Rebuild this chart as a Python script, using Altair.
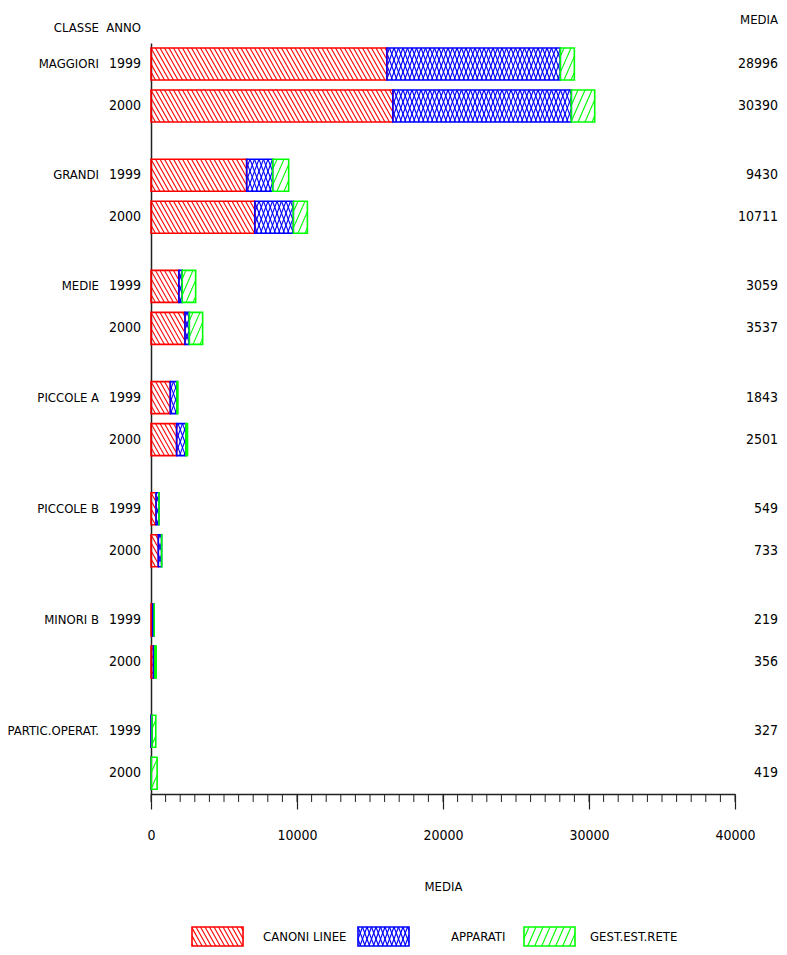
import altair as alt
import pandas as pd
import numpy as np

# ---------------- data ----------------
classi = ["MAGGIORI", "GRANDI", "MEDIE", "PICCOLE A", "PICCOLE B", "MINORI B", "PARTIC.OPERAT."]
anni = ["1999", "2000"]
canoni_linee = [16155, 16566, 6553, 7111, 1909, 2327, 1322, 1755, 345, 500, 120, 170, 5, 10]
apparati = [11882, 12225, 1780, 2638, 230, 295, 456, 638, 200, 225, 95, 95, 60, 5]
gest_est_rete = [959, 1599, 1097, 962, 920, 915, 65, 108, 4, 8, 4, 91, 262, 404]
media = [28996, 30390, 9430, 10711, 3059, 3537, 1843, 2501, 549, 733, 219, 356, 327, 419]
voci = ["CANONI LINEE", "APPARATI", "GEST.EST.RETE"]
colori = ["#ff0000", "#0000ff", "#00ff00"]
x_ticks = [0, 10000, 20000, 30000, 40000]
x_minor = list(range(0, 40001, 1000))

# ---------------- layout ----------------
W, H = 584, 751
ROW = 42.0                      # px between the two years of a class
Y0 = -0.5
Y1 = Y0 + H / ROW
UNIT = H / (Y1 - Y0)
K = W / 40000
GROUP_STEP = 111.2 / ROW
HALF = 16 / UNIT
FONT = "DejaVu Sans Condensed, DejaVu Sans, sans-serif"
FS = 13     # words
FN = 14     # numbers
RIGHT_X = 627
PATTERNS = {"CANONI LINEE": (4.5, [18]), "APPARATI": (4.5, [12, -12]), "GEST.EST.RETE": (7, [-14])}


def val_x(px):
    return px / K


def val_y(px):
    return px / UNIT + Y0


def hatch_lines(X0, X1, T0, T1, d, r):
    out = []
    hb = T1 - T0
    n0 = int(np.floor((min(X0, X0 - r) - d) / d))
    n1 = int(np.ceil((max(X1, X1 - r) + d) / d))
    for n in range(n0, n1 + 1):
        a = n * d
        ta = T0 + (X0 - a) * hb / r
        tb = T0 + (X1 - a) * hb / r
        lo = max(T0, min(ta, tb))
        hi = min(T1, max(ta, tb))
        if hi - lo > 0.3:
            out.append((a + r * (lo - T0) / hb, lo, a + r * (hi - T0) / hb, hi))
    return out


segs, hatch, rows = [], [], []
series = [canoni_linee, apparati, gest_est_rete]
i = 0
for g, c in enumerate(classi):
    for j, a in enumerate(anni):
        pos = g * GROUP_STEP + j
        rows.append({"pos": pos, "anno": a, "classe": c if j == 0 else "", "media": str(media[i])})
        start = 0
        for v, s in zip(voci, series):
            end = start + s[i]
            segs.append({"x": start, "x2": end, "y": pos - HALF, "y2": pos + HALF, "voce": v})
            d, runs = PATTERNS[v]
            T0 = (pos - HALF - Y0) * UNIT
            T1 = (pos + HALF - Y0) * UNIT
            for r in runs:
                for (xa, ya, xb, yb) in hatch_lines(start * K, end * K, T0, T1, d, r):
                    hatch.append({"x": val_x(xa), "y": val_y(ya), "x2": val_x(xb), "y2": val_y(yb), "voce": v})
            start = end
        i += 1

# legend (below plot)
leg_boxes, leg_labels = [], []
label_x = [112, 300, 439]
LEG_TOP, LEG_BOT = 884, 903
for n, v in enumerate(voci):
    bx0, bx1 = 41 + n * 166, 92 + n * 166
    leg_boxes.append({"x": val_x(bx0), "x2": val_x(bx1), "y": val_y(LEG_TOP), "y2": val_y(LEG_BOT), "voce": v})
    d, runs = PATTERNS[v]
    for r in runs:
        for (xa, ya, xb, yb) in hatch_lines(bx0, bx1, LEG_TOP, LEG_BOT, d, r * (LEG_BOT - LEG_TOP) / 32):
            hatch.append({"x": val_x(xa), "y": val_y(ya), "x2": val_x(xb), "y2": val_y(yb), "voce": v})
    leg_labels.append({"x": val_x(label_x[n]), "y": val_y((LEG_TOP + LEG_BOT) / 2), "voce": v})

df_segs = pd.DataFrame(segs + leg_boxes)
df_hatch = pd.DataFrame(hatch)
df_rows = pd.DataFrame(rows)
df_leg = pd.DataFrame(leg_labels)
df_minor = pd.DataFrame({"x": x_minor})

xscale = alt.Scale(domain=[0, 40000], nice=False, zero=False)
yscale = alt.Scale(domain=[Y0, Y1], reverse=True, nice=False, zero=False)
xaxis = alt.Axis(values=x_ticks, tickSize=15, tickColor="#222222", domainColor="#222222",
                 domainWidth=1.5, tickWidth=1.2, grid=False, labelFont=FONT, labelFontSize=FN,
                 labelColor="black", labelPadding=19, title="MEDIA", titleFont=FONT,
                 titleFontSize=FS, titleFontWeight="normal", titleColor="black", titlePadding=38,
                 format="d", labelFlush=False)
yaxis = alt.Axis(labels=False, ticks=False, domain=True, domainColor="#222222", domainWidth=1.5,
                 grid=False, title=None)
col = alt.Color("voce:N", scale=alt.Scale(domain=voci, range=colori), legend=None)

X = alt.X("x:Q", scale=xscale, axis=xaxis)
Yy = alt.Y("y:Q", scale=yscale, axis=yaxis)

hatch_layer = alt.Chart(df_hatch).mark_rule(strokeWidth=1.1).encode(
    x=X, x2="x2:Q", y=Yy, y2="y2:Q", color=col)

box_layer = alt.Chart(df_segs).mark_rect(fillOpacity=0, strokeWidth=1.6).encode(
    x=X, x2="x2:Q", y=Yy, y2="y2:Q",
    stroke=alt.Stroke("voce:N", scale=alt.Scale(domain=voci, range=colori), legend=None))

minor_layer = alt.Chart(df_minor).mark_rule(color="#222222", strokeWidth=1).encode(
    x=X, y=alt.value(H), y2=alt.value(H + 8))

Ypos = alt.Y("pos:Q", scale=yscale, axis=yaxis)
txtw = dict(font=FONT, fontSize=FS, color="black", baseline="middle")
txtn = dict(font=FONT, fontSize=FN, color="black", baseline="middle")
anno_layer = alt.Chart(df_rows).mark_text(align="right", **txtn).encode(
    x=alt.value(-10), y=Ypos, text="anno:N")
classe_layer = alt.Chart(df_rows).mark_text(align="right", **txtw).encode(
    x=alt.value(-52), y=Ypos, text="classe:N")
media_layer = alt.Chart(df_rows).mark_text(align="right", **txtn).encode(
    x=alt.value(RIGHT_X), y=Ypos, text="media:N")

leg_layer = alt.Chart(df_leg).mark_text(align="left", **txtw).encode(
    x=X, y=Yy, text="voce:N")

h1 = alt.Chart(pd.DataFrame({"t": ["CLASSE"]})).mark_text(align="right", **txtw).encode(
    x=alt.value(-52), y=alt.value(-15), text="t:N")
h2 = alt.Chart(pd.DataFrame({"t": ["ANNO"]})).mark_text(align="right", **txtw).encode(
    x=alt.value(-10), y=alt.value(-15), text="t:N")
h3 = alt.Chart(pd.DataFrame({"t": ["MEDIA"]})).mark_text(align="right", **txtw).encode(
    x=alt.value(RIGHT_X), y=alt.value(-23), text="t:N")

chart = alt.layer(
    hatch_layer, box_layer, minor_layer, anno_layer, classe_layer, media_layer, leg_layer, h1, h2, h3
).properties(
    width=W, height=H,
    padding={"left": 143, "top": 35, "right": 44, "bottom": 153},
    autosize=alt.AutoSizeParams(type="none"),
).configure(background="white").configure_view(stroke=None)

chart.save("out.html", embed_options={"renderer": "svg", "actions": False})
